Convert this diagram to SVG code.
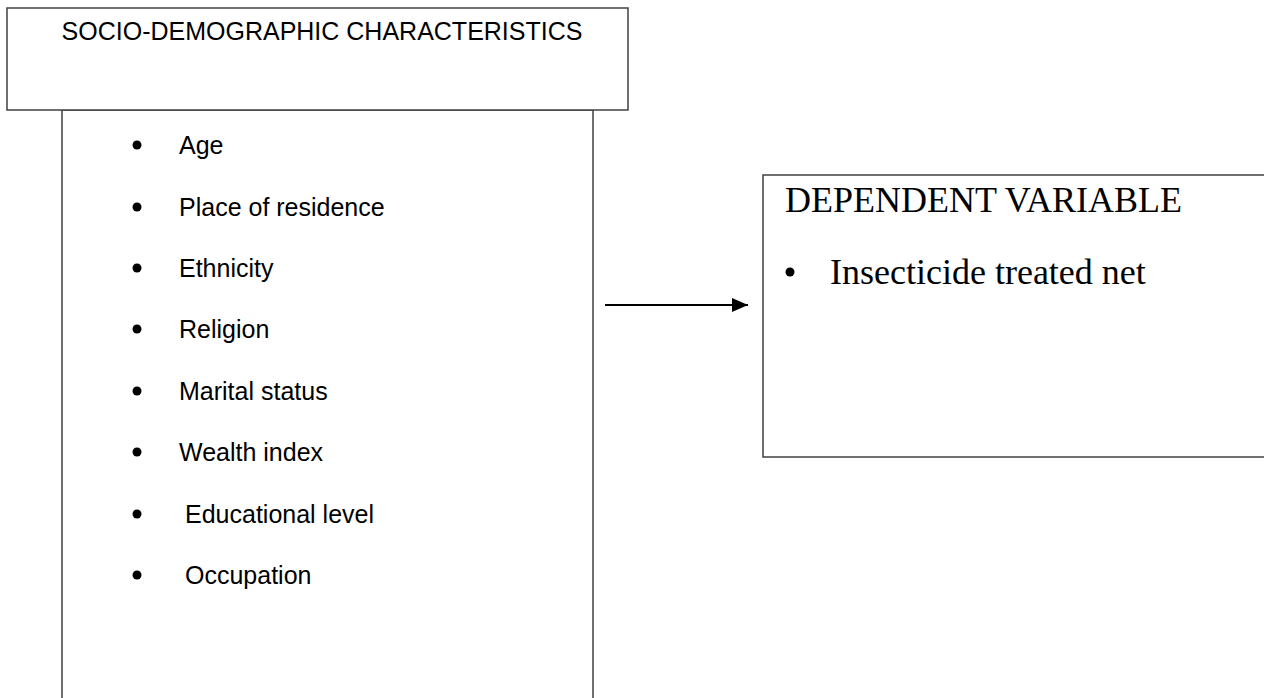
<svg xmlns="http://www.w3.org/2000/svg" width="1264" height="698" viewBox="0 0 1264 698">
<style>
.box{fill:#fff;stroke:#404040;stroke-width:1.5}
.s{font-family:"Liberation Sans",Arial,sans-serif;font-size:25px;fill:#000}
.t{font-family:"Liberation Serif","Times New Roman",serif;font-size:36px;fill:#000}
.b{fill:#000}
</style>
<defs>
<marker id="ah" markerWidth="16" markerHeight="14" refX="16" refY="7" orient="auto" markerUnits="userSpaceOnUse">
<path d="M0,0 L16,7 L0,14 Z" fill="#000"/>
</marker>
</defs>
<rect width="1264" height="698" fill="#fff"/>
<g id="socio-list">
<rect class="box" x="62" y="110" width="531" height="600"/>
<circle class="b" cx="137" cy="145" r="4.5"/><text class="s" x="179" y="154">Age</text>
<circle class="b" cx="137" cy="207" r="4.5"/><text class="s" x="179" y="216">Place of residence</text>
<circle class="b" cx="137" cy="268" r="4.5"/><text class="s" x="179" y="277">Ethnicity</text>
<circle class="b" cx="137" cy="329" r="4.5"/><text class="s" x="179" y="338">Religion</text>
<circle class="b" cx="137" cy="391" r="4.5"/><text class="s" x="179" y="400">Marital status</text>
<circle class="b" cx="137" cy="452" r="4.5"/><text class="s" x="179" y="461">Wealth index</text>
<circle class="b" cx="137" cy="514" r="4.5"/><text class="s" x="185" y="523">Educational level</text>
<circle class="b" cx="137" cy="575" r="4.5"/><text class="s" x="185" y="584">Occupation</text>
</g>
<g id="socio-header">
<rect class="box" x="7" y="8" width="621" height="102"/>
<text class="s" x="322" y="40" text-anchor="middle">SOCIO-DEMOGRAPHIC CHARACTERISTICS</text>
</g>
<g id="dependent">
<rect class="box" x="763" y="175" width="520" height="282"/>
<text class="t" x="785" y="212">DEPENDENT VARIABLE</text>
<circle class="b" cx="790" cy="272" r="4.5"/>
<text class="t" x="830" y="284">Insecticide treated net</text>
</g>
<g id="connectors">
<line x1="605" y1="305" x2="748" y2="305" stroke="#000" stroke-width="2" marker-end="url(#ah)"/>
</g>
</svg>
